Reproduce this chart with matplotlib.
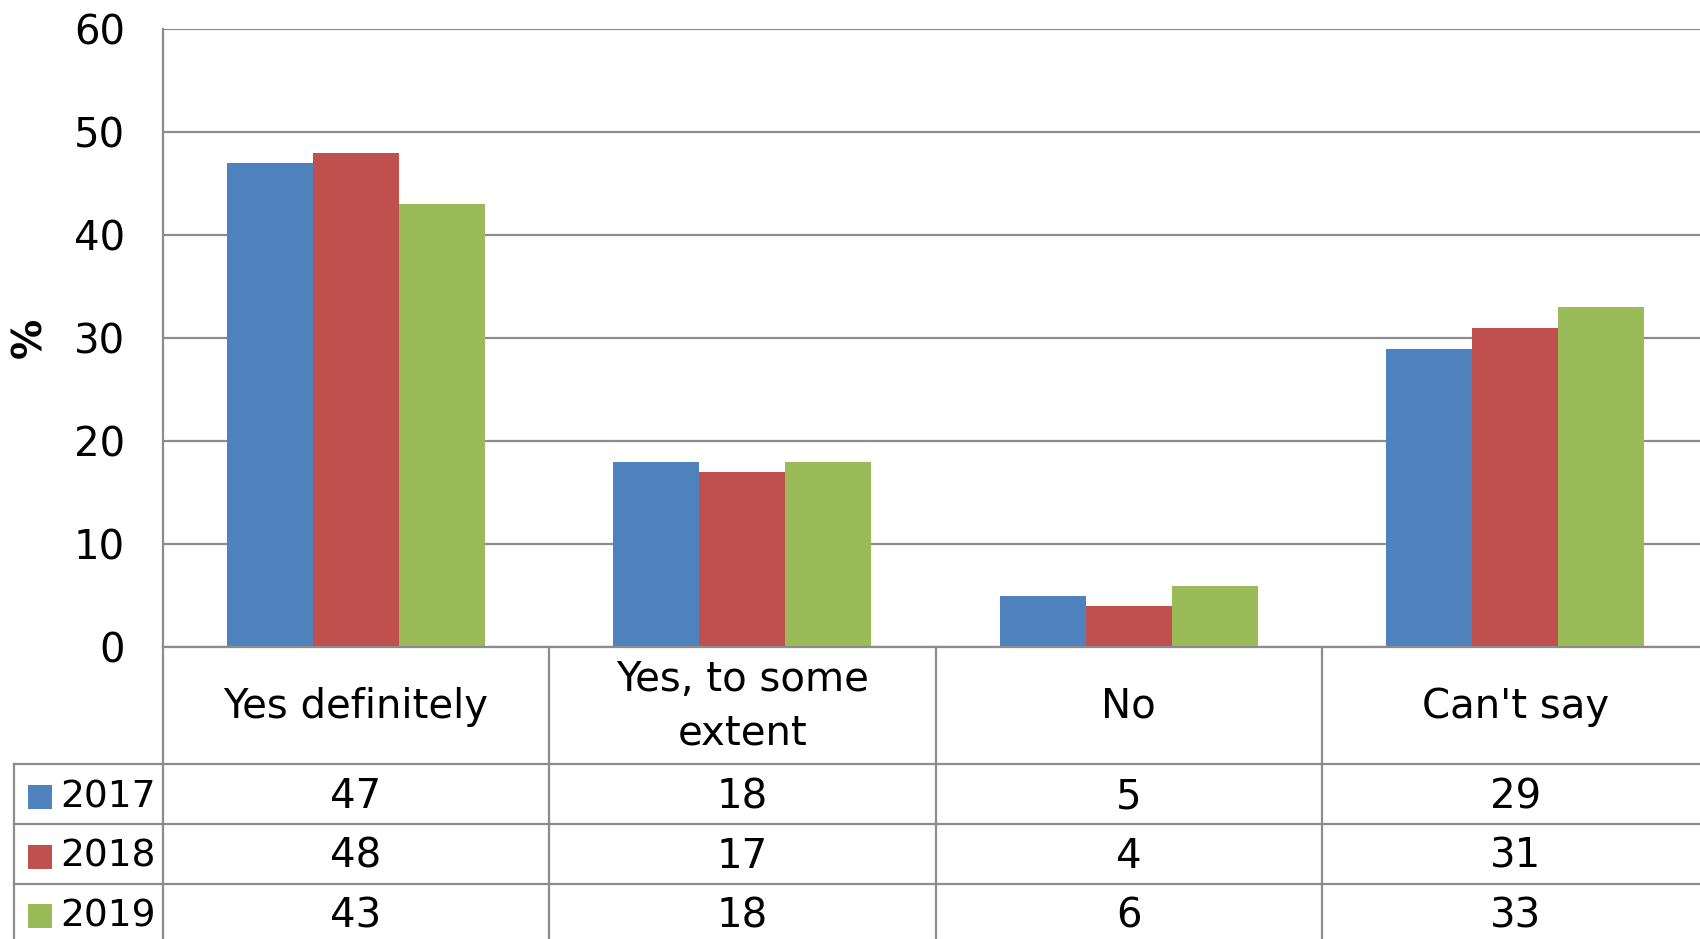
import matplotlib
matplotlib.use("Agg")
import matplotlib.pyplot as plt
from matplotlib.lines import Line2D
from matplotlib.patches import Rectangle
from matplotlib.transforms import blended_transform_factory

categories = ["Yes definitely", "Yes, to some\nextent", "No", "Can't say"]
years = ["2017", "2018", "2019"]
values_2017 = [47, 18, 5, 29]
values_2018 = [48, 17, 4, 31]
values_2019 = [43, 18, 6, 33]
series = [values_2017, values_2018, values_2019]
colors = ["#4F81BD", "#C0504D", "#9BBB59"]
y_ticks = [0, 10, 20, 30, 40, 50, 60]

W, H = 1700, 939
FS = 29
GRID = "#8C8C8C"
LW = 1.6

plt.rcParams["font.family"] = ["DejaVu Sans"]
fig = plt.figure(figsize=(W / 100, H / 100), dpi=100)


def fx(px):
    return px / W


def fy(py):
    return 1 - py / H


ax_left, ax_top, ax_bottom = 162.6, 29.3, 647.3
cat_w = 386.5
ax = fig.add_axes([fx(ax_left), fy(ax_bottom), fx(4 * cat_w), (ax_bottom - ax_top) / H])
ax.set_xlim(-0.5, 3.5)
ax.set_ylim(0, 60)

bar_w = 0.2225
for j, (vals, col) in enumerate(zip(series, colors)):
    xs = [i + (j - 1) * bar_w for i in range(len(categories))]
    ax.bar(xs, vals, width=bar_w, color=col, zorder=3, linewidth=0)

ax.set_yticks(y_ticks)
ax.set_yticklabels([str(t) for t in y_ticks], fontsize=FS)
ax.tick_params(axis="y", length=0, pad=27)
ax.set_xticks([])
ax.yaxis.grid(True, color=GRID, linewidth=LW, zorder=0)
ax.set_axisbelow(True)
for s in ["top", "right", "bottom"]:
    ax.spines[s].set_visible(False)
ax.spines["left"].set_color(GRID)
ax.spines["left"].set_linewidth(LW)

fig.text(fx(30), fy(338), "%", rotation=90, fontsize=FS, fontweight="bold",
         ha="center", va="center")

# Data table beneath the chart
tr = blended_transform_factory(ax.transData, fig.transFigure)
row_lines = [647.3, 764.4, 824.0, 883.6]
right = 3.5

# horizontal rules
for k, py in enumerate(row_lines):
    if k == 0:
        fig.add_artist(Line2D([-0.5, right], [fy(py), fy(py)], transform=tr,
                              color=GRID, linewidth=LW, zorder=5))
    else:
        fig.add_artist(Line2D([fx(14), fx(W + 20)], [fy(py), fy(py)],
                              transform=fig.transFigure, color=GRID, linewidth=LW))

# vertical rules
for xv in [-0.5, 0.5, 1.5, 2.5]:
    fig.add_artist(Line2D([xv, xv], [fy(647.3), fy(H + 5)], transform=tr,
                          color=GRID, linewidth=LW))
fig.add_artist(Line2D([fx(14), fx(14)], [fy(764.4), fy(H + 5)],
                      transform=fig.transFigure, color=GRID, linewidth=LW))

# category headers
for i, cat in enumerate(categories):
    fig.text(i, fy(707), cat, transform=tr, fontsize=FS, ha="center",
             va="center", linespacing=1.45)

# value rows with legend keys
row_h = row_lines[2] - row_lines[1]
row_centers = [row_lines[1] + row_h / 2 + r * row_h for r in range(3)]
for r, (yr, vals, col) in enumerate(zip(years, series, colors)):
    cy = row_centers[r] + 3
    sq = 24
    fig.add_artist(Rectangle((fx(28), fy(cy + sq / 2)), sq / W, sq / H,
                             transform=fig.transFigure, color=col, linewidth=0))
    fig.text(fx(60), fy(cy), yr, fontsize=FS - 2, ha="left", va="center")
    for i, v in enumerate(vals):
        fig.text(i, fy(cy), str(v), transform=tr, fontsize=FS, ha="center",
                 va="center")

fig.savefig("out.png", dpi=100)
